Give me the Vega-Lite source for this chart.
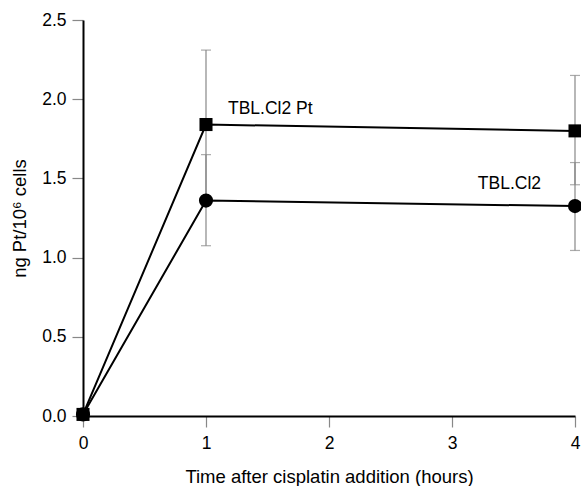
{
  "$schema": "https://vega.github.io/schema/vega-lite/v6.json",
  "autosize": "none",
  "width": 492,
  "height": 396,
  "padding": {"left": 83, "top": 20, "right": 6, "bottom": 70},
  "background": "white",
  "config": {
    "view": {"stroke": null},
    "font": "Liberation Sans",
    "axis": {
      "grid": false,
      "domainColor": "black",
      "domainWidth": 2,
      "tickColor": "#888888",
      "tickWidth": 1.2,
      "tickSize": 11,
      "labelFont": "Liberation Sans",
      "labelFontSize": 17.5,
      "labelColor": "black",
      "titleFont": "Liberation Sans",
      "titleFontSize": 18.5,
      "titleFontWeight": "normal",
      "titleColor": "black"
    }
  },
  "data": {
    "values": [
      {"series": "TBL.Cl2 Pt", "time": 0, "value": 0.01, "lo": 0.01, "hi": 0.01, "label": null},
      {"series": "TBL.Cl2 Pt", "time": 1, "value": 1.84, "lo": 1.37, "hi": 2.31, "label": "TBL.Cl2 Pt"},
      {"series": "TBL.Cl2 Pt", "time": 4, "value": 1.80, "lo": 1.46, "hi": 2.15, "label": null},
      {"series": "TBL.Cl2", "time": 0, "value": 0.01, "lo": 0.01, "hi": 0.01, "label": null},
      {"series": "TBL.Cl2", "time": 1, "value": 1.36, "lo": 1.075, "hi": 1.65, "label": null},
      {"series": "TBL.Cl2", "time": 4, "value": 1.325, "lo": 1.045, "hi": 1.60, "label": "TBL.Cl2"}
    ]
  },
  "encoding": {
    "x": {
      "field": "time", "type": "quantitative",
      "scale": {"domain": [0, 4], "nice": false, "zero": false},
      "axis": {"values": [0, 1, 2, 3, 4], "format": "d", "title": "Time after cisplatin addition (hours)", "labelPadding": 7, "titlePadding": 16, "labelFlush": false}
    },
    "y": {
      "field": "value", "type": "quantitative",
      "scale": {"domain": [0, 2.5], "nice": false},
      "axis": {"values": [0, 0.5, 1, 1.5, 2, 2.5], "format": ".1f", "title": "ng Pt/10⁶ cells", "labelPadding": 6, "titlePadding": 12, "labelFlush": false}
    }
  },
  "layer": [
    {
      "transform": [{"filter": "datum.time > 0"}],
      "mark": {"type": "rule", "color": "#888888", "strokeWidth": 1.2},
      "encoding": {"y": {"field": "lo", "type": "quantitative"}, "y2": {"field": "hi"}}
    },
    {
      "transform": [{"filter": "datum.time > 0"}],
      "mark": {"type": "tick", "orient": "horizontal", "color": "#888888", "size": 10, "thickness": 1.2},
      "encoding": {"y": {"field": "lo", "type": "quantitative"}}
    },
    {
      "transform": [{"filter": "datum.time > 0"}],
      "mark": {"type": "tick", "orient": "horizontal", "color": "#888888", "size": 10, "thickness": 1.2},
      "encoding": {"y": {"field": "hi", "type": "quantitative"}}
    },
    {
      "mark": {"type": "line", "color": "black", "strokeWidth": 2},
      "encoding": {"detail": {"field": "series"}}
    },
    {
      "mark": {"type": "point", "filled": true, "opacity": 1, "color": "black"},
      "encoding": {
        "shape": {"field": "series", "type": "nominal", "scale": {"domain": ["TBL.Cl2 Pt", "TBL.Cl2"], "range": ["square", "circle"]}, "legend": null},
        "size": {"field": "series", "type": "nominal", "scale": {"domain": ["TBL.Cl2 Pt", "TBL.Cl2"], "range": [170, 200]}, "legend": null}
      }
    },
    {
      "transform": [{"filter": "datum.series == 'TBL.Cl2 Pt' && datum.label != null"}],
      "mark": {"type": "text", "align": "left", "baseline": "middle", "dx": 22, "dy": -16, "fontSize": 17.5, "color": "black"},
      "encoding": {"text": {"field": "label"}}
    },
    {
      "transform": [{"filter": "datum.series == 'TBL.Cl2' && datum.label != null"}],
      "mark": {"type": "text", "align": "right", "baseline": "middle", "dx": -34, "dy": -22, "fontSize": 17.5, "color": "black"},
      "encoding": {"text": {"field": "label"}}
    }
  ]
}
